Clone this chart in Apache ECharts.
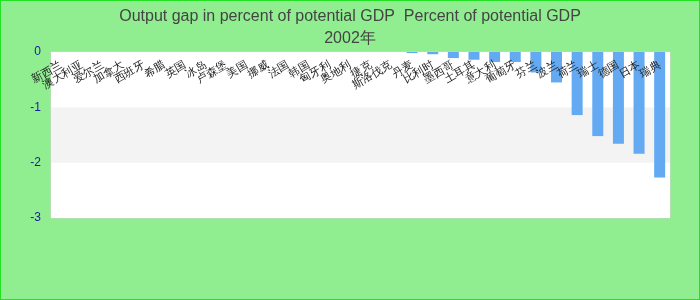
<!DOCTYPE html>
<html>
<head>
<meta charset="utf-8">
<script src="https://cdn.jsdelivr.net/npm/echarts@6/dist/echarts.min.js"></script>
<style>
html,body{margin:0;padding:0;}
#c{width:700px;height:300px;box-sizing:border-box;border:1px solid #22e022;background:#90ee90;}
</style>
</head>
<body>
<div id="c"></div>
<script>
const titleText = "Output gap in percent of potential GDP  Percent of potential GDP";
const subTitle = "2002年";
const categories = ["新西兰","澳大利亚","爱尔兰","加拿大","西班牙","希腊","英国","冰岛","卢森堡","美国","挪威","法国","韩国","匈牙利","奥地利","捷克","斯洛伐克","丹麦","比利时","墨西哥","土耳其","意大利","葡萄牙","芬兰","波兰","荷兰","瑞士","德国","日本","瑞典"];
const values = [0,0,0,0,0,0,0,0,0,0,0,0,0,0,0,0,0,-0.02,-0.04,-0.11,-0.14,-0.18,-0.18,-0.37,-0.55,-1.14,-1.52,-1.66,-1.84,-2.27];
const yMin = -3, yMax = 0, yStep = 1;

const chart = echarts.init(document.getElementById('c'));
chart.setOption({
  animation: false,
  title: {
    text: titleText,
    subtext: subTitle,
    left: 'center',
    top: 3,
    itemGap: 6,
    textStyle: {fontSize: 16, fontWeight: 'normal', color: '#444', fontFamily: 'Liberation Sans, Arial, sans-serif'},
    subtextStyle: {fontSize: 16, color: '#444', fontFamily: 'Liberation Sans, Arial, sans-serif'}
  },
  grid: {left: 50, right: 29, top: 51, bottom: 81, show: true, backgroundColor: '#fff', borderColor: '#d0d0d0', borderWidth: 1},
  xAxis: {
    type: 'category',
    data: categories,
    position: 'top',
    z: 5,
    axisLine: {show: false},
    axisTick: {show: false},
    axisLabel: {inside: true, rotate: 30, interval: 0, fontSize: 11, color: '#222', margin: 12}
  },
  yAxis: {
    type: 'value',
    min: yMin, max: yMax, interval: yStep,
    axisLine: {show: false},
    axisTick: {show: false},
    splitLine: {show: false},
    splitArea: {show: true, areaStyle: {color: ['#ffffff', '#f3f3f3']}},
    axisLabel: {color: '#1a1aa0', fontSize: 12, margin: 10}
  },
  series: [{
    type: 'bar',
    data: values,
    barWidth: 11,
    itemStyle: {color: '#63aaf3'}
  }]
});
</script>
</body>
</html>
